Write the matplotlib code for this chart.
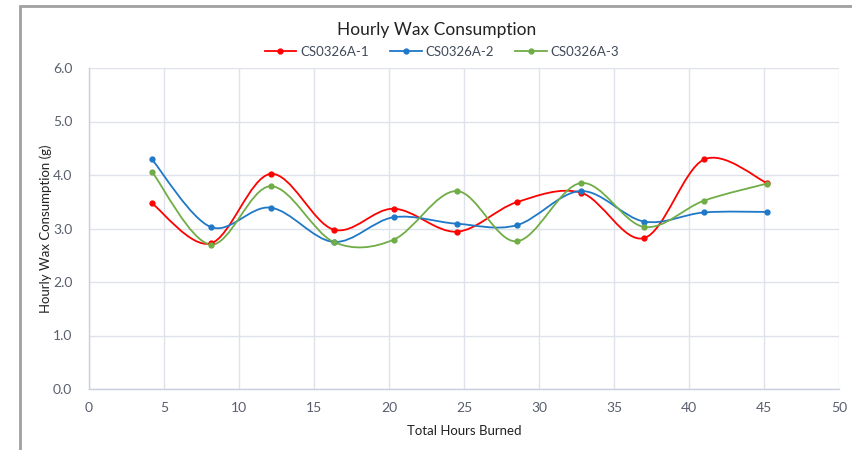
import matplotlib
matplotlib.use("Agg")
import matplotlib.pyplot as plt
from matplotlib.path import Path
from matplotlib.patches import PathPatch, Rectangle
from matplotlib.lines import Line2D
import numpy as np

plt.rcParams['font.family'] = ['Lato', 'DejaVu Sans']

hours = [4.2, 8.1, 12.1, 16.3, 20.3, 24.5, 28.5, 32.8, 37.0, 41.0, 45.2]
cs1 = [3.47, 2.72, 4.02, 2.98, 3.37, 2.94, 3.49, 3.67, 2.82, 4.29, 3.85]
cs2 = [4.29, 3.03, 3.39, 2.75, 3.21, 3.09, 3.06, 3.70, 3.13, 3.30, 3.31]
cs3 = [4.06, 2.70, 3.79, 2.75, 2.79, 3.70, 2.76, 3.85, 3.03, 3.52, 3.84]
names = ["CS0326A-1", "CS0326A-2", "CS0326A-3"]
colors = ["#FF0000", "#1F78C8", "#70AD47"]

txt = "#404a5a"
tick_c = "#595f6e"


def smooth_path(x, y):
    # Excel-style smoothed line: cubic bezier through the points
    p = np.column_stack([x, y])
    n = len(p)
    verts = [p[0]]
    codes = [Path.MOVETO]
    for i in range(n - 1):
        prev = p[i - 1] if i > 0 else p[i]
        nxt = p[i + 2] if i + 2 < n else p[i + 1]
        c1 = p[i] + (p[i + 1] - prev) / 6.0
        c2 = p[i + 1] - (nxt - p[i]) / 6.0
        verts += [c1, c2, p[i + 1]]
        codes += [Path.CURVE4] * 3
    return Path(verts, codes)


fig = plt.figure(figsize=(8.52, 4.5), dpi=100)
ax = fig.add_axes([89 / 852, 1 - 389 / 450, 750 / 852, 321 / 450])

for vals, name, c in zip([cs1, cs2, cs3], names, colors):
    ax.add_patch(PathPatch(smooth_path(hours, vals), facecolor="none",
                           edgecolor=c, linewidth=1.3, zorder=3))
    ax.plot(hours, vals, "o", color=c, markersize=3.5, zorder=4)

ax.set_xlim(0, 50)
ax.set_ylim(0, 6)
ax.set_xticks(np.arange(0, 51, 5))
ax.set_yticks(np.arange(0, 6.1, 1.0))
ax.set_yticklabels([f"{v:.1f}" for v in np.arange(0, 6.1, 1.0)])
ax.grid(True, color="#dfe2ea", linewidth=1.0)
ax.set_axisbelow(True)
for s in ["top", "right"]:
    ax.spines[s].set_visible(False)
for s in ["left", "bottom"]:
    ax.spines[s].set_color("#c9cfdc")
    ax.spines[s].set_linewidth(1.0)
ax.tick_params(length=0, labelsize=10, colors=tick_c, pad=9)
ax.tick_params(axis="y", pad=12)

ax.set_xlabel("Total Hours Burned", fontsize=9.5, color="#222222", labelpad=8)
ax.set_ylabel("Hourly Wax Consumption (g)", fontsize=9.5, color="#222222", labelpad=1)

fig.text(437 / 852, 1 - 30 / 450, "Hourly Wax Consumption", ha="center", va="center",
         fontsize=12.5, color="#222222")

handles = [Line2D([0], [0], color=c, linewidth=1.3, marker="o", markersize=3.5)
           for c in colors]
fig.legend(handles, names, loc="center", bbox_to_anchor=(442 / 852, 1 - 52 / 450),
           ncol=3, frameon=False, fontsize=9.5, handlelength=2.4, columnspacing=1.6,
           handletextpad=0.3, labelcolor=txt)

# outer chart border (left and top edges visible)
fig.add_artist(Rectangle((20 / 852, -0.05), 1.1, 1 - 6 / 450 + 0.05,
                         transform=fig.transFigure, fill=False,
                         edgecolor="#a0a0a0", linewidth=2.0))

fig.savefig("out.png", dpi=100)
